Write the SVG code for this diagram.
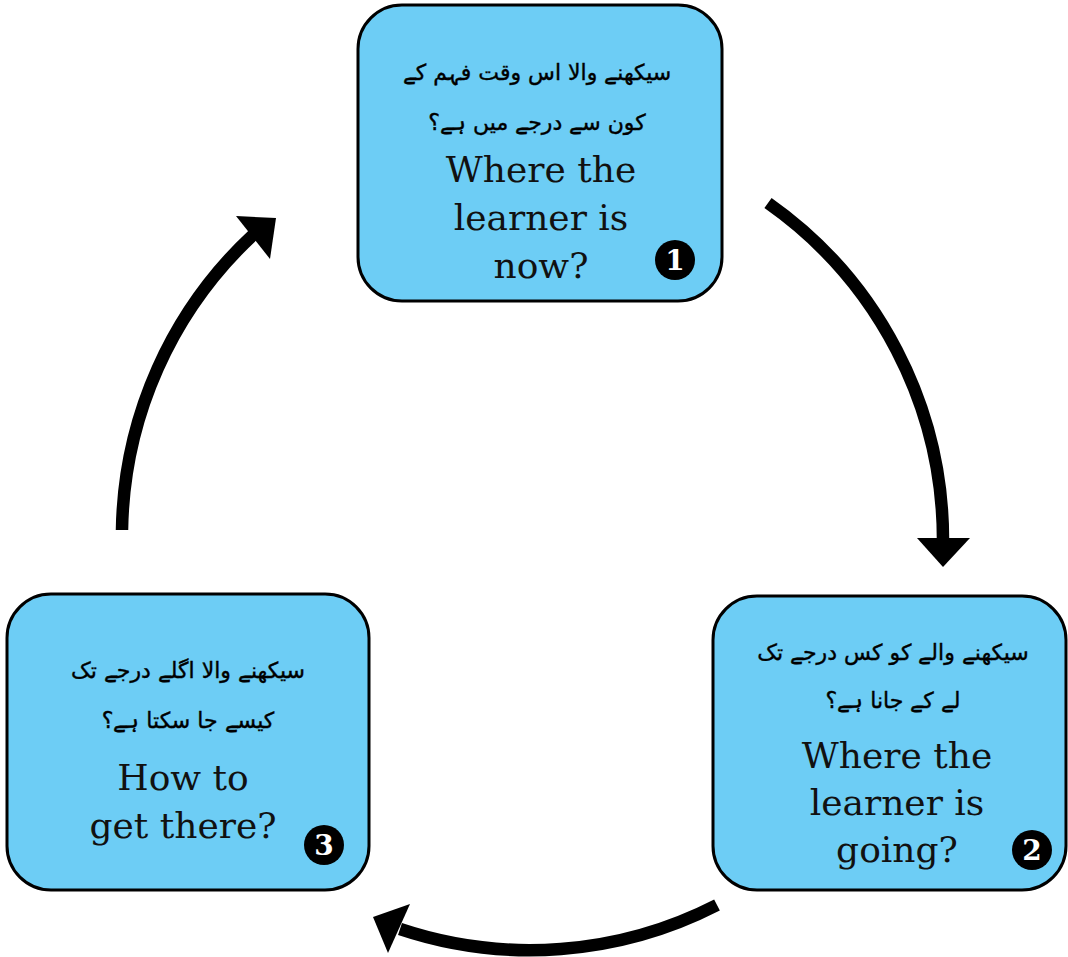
<svg xmlns="http://www.w3.org/2000/svg" width="1068" height="957" viewBox="0 0 1068 957">
<style>
.box{fill:#6dcdf5;stroke:#000;stroke-width:3}
.ur{font-family:"DejaVu Sans",sans-serif;font-size:22px;fill:#000;stroke:#000;stroke-width:0.4;text-anchor:middle;direction:rtl}
.en{font-family:"DejaVu Serif",serif;font-size:36px;fill:#111;text-anchor:middle}
.badge{fill:#000}
.num{font-family:"DejaVu Serif",serif;font-weight:bold;font-size:28px;fill:#fff;text-anchor:middle}
.shaft{fill:none;stroke:#000;stroke-width:12.5}
.head{fill:#000}
</style>
<rect width="1068" height="957" fill="#fff"/>
<g id="connectors">
<path class="shaft" d="M768,203 A412,412 0 0 1 943,540"/>
<polygon class="head" points="917,538 970,538 943,567"/>
<path class="shaft" d="M717,905 A410,410 0 0 1 400,929"/>
<polygon class="head" points="373,917 410,904 388,953"/>
<path class="shaft" d="M122,530 A412,412 0 0 1 254,234"/>
<polygon class="head" points="276,218 236,216 270,259"/>
</g>
<g id="node1">
<rect class="box" x="358" y="5" width="364" height="296" rx="44"/>
<text class="ur" x="537" y="80">سیکھنے والا اس وقت فہم کے</text>
<text class="ur" x="537" y="130">کون سے درجے میں ہے؟</text>
<text class="en" x="541" y="182">Where the</text>
<text class="en" x="541" y="230">learner is</text>
<text class="en" x="541" y="278">now?</text>
<circle class="badge" cx="675" cy="260" r="20"/>
<text class="num" x="675" y="270">1</text>
</g>
<g id="node2">
<rect class="box" x="713" y="596" width="353" height="294" rx="44"/>
<text class="ur" x="893" y="660">سیکھنے والے کو کس درجے تک</text>
<text class="ur" x="893" y="708">لے کے جانا ہے؟</text>
<text class="en" x="897" y="768">Where the</text>
<text class="en" x="897" y="815">learner is</text>
<text class="en" x="897" y="862">going?</text>
<circle class="badge" cx="1032" cy="850" r="20"/>
<text class="num" x="1032" y="860">2</text>
</g>
<g id="node3">
<rect class="box" x="7" y="594" width="362" height="296" rx="44"/>
<text class="ur" x="188" y="678">سیکھنے والا اگلے درجے تک</text>
<text class="ur" x="188" y="728">کیسے جا سکتا ہے؟</text>
<text class="en" x="183" y="790">How to</text>
<text class="en" x="183" y="838">get there?</text>
<circle class="badge" cx="324" cy="845" r="20"/>
<text class="num" x="324" y="855">3</text>
</g>
</svg>
